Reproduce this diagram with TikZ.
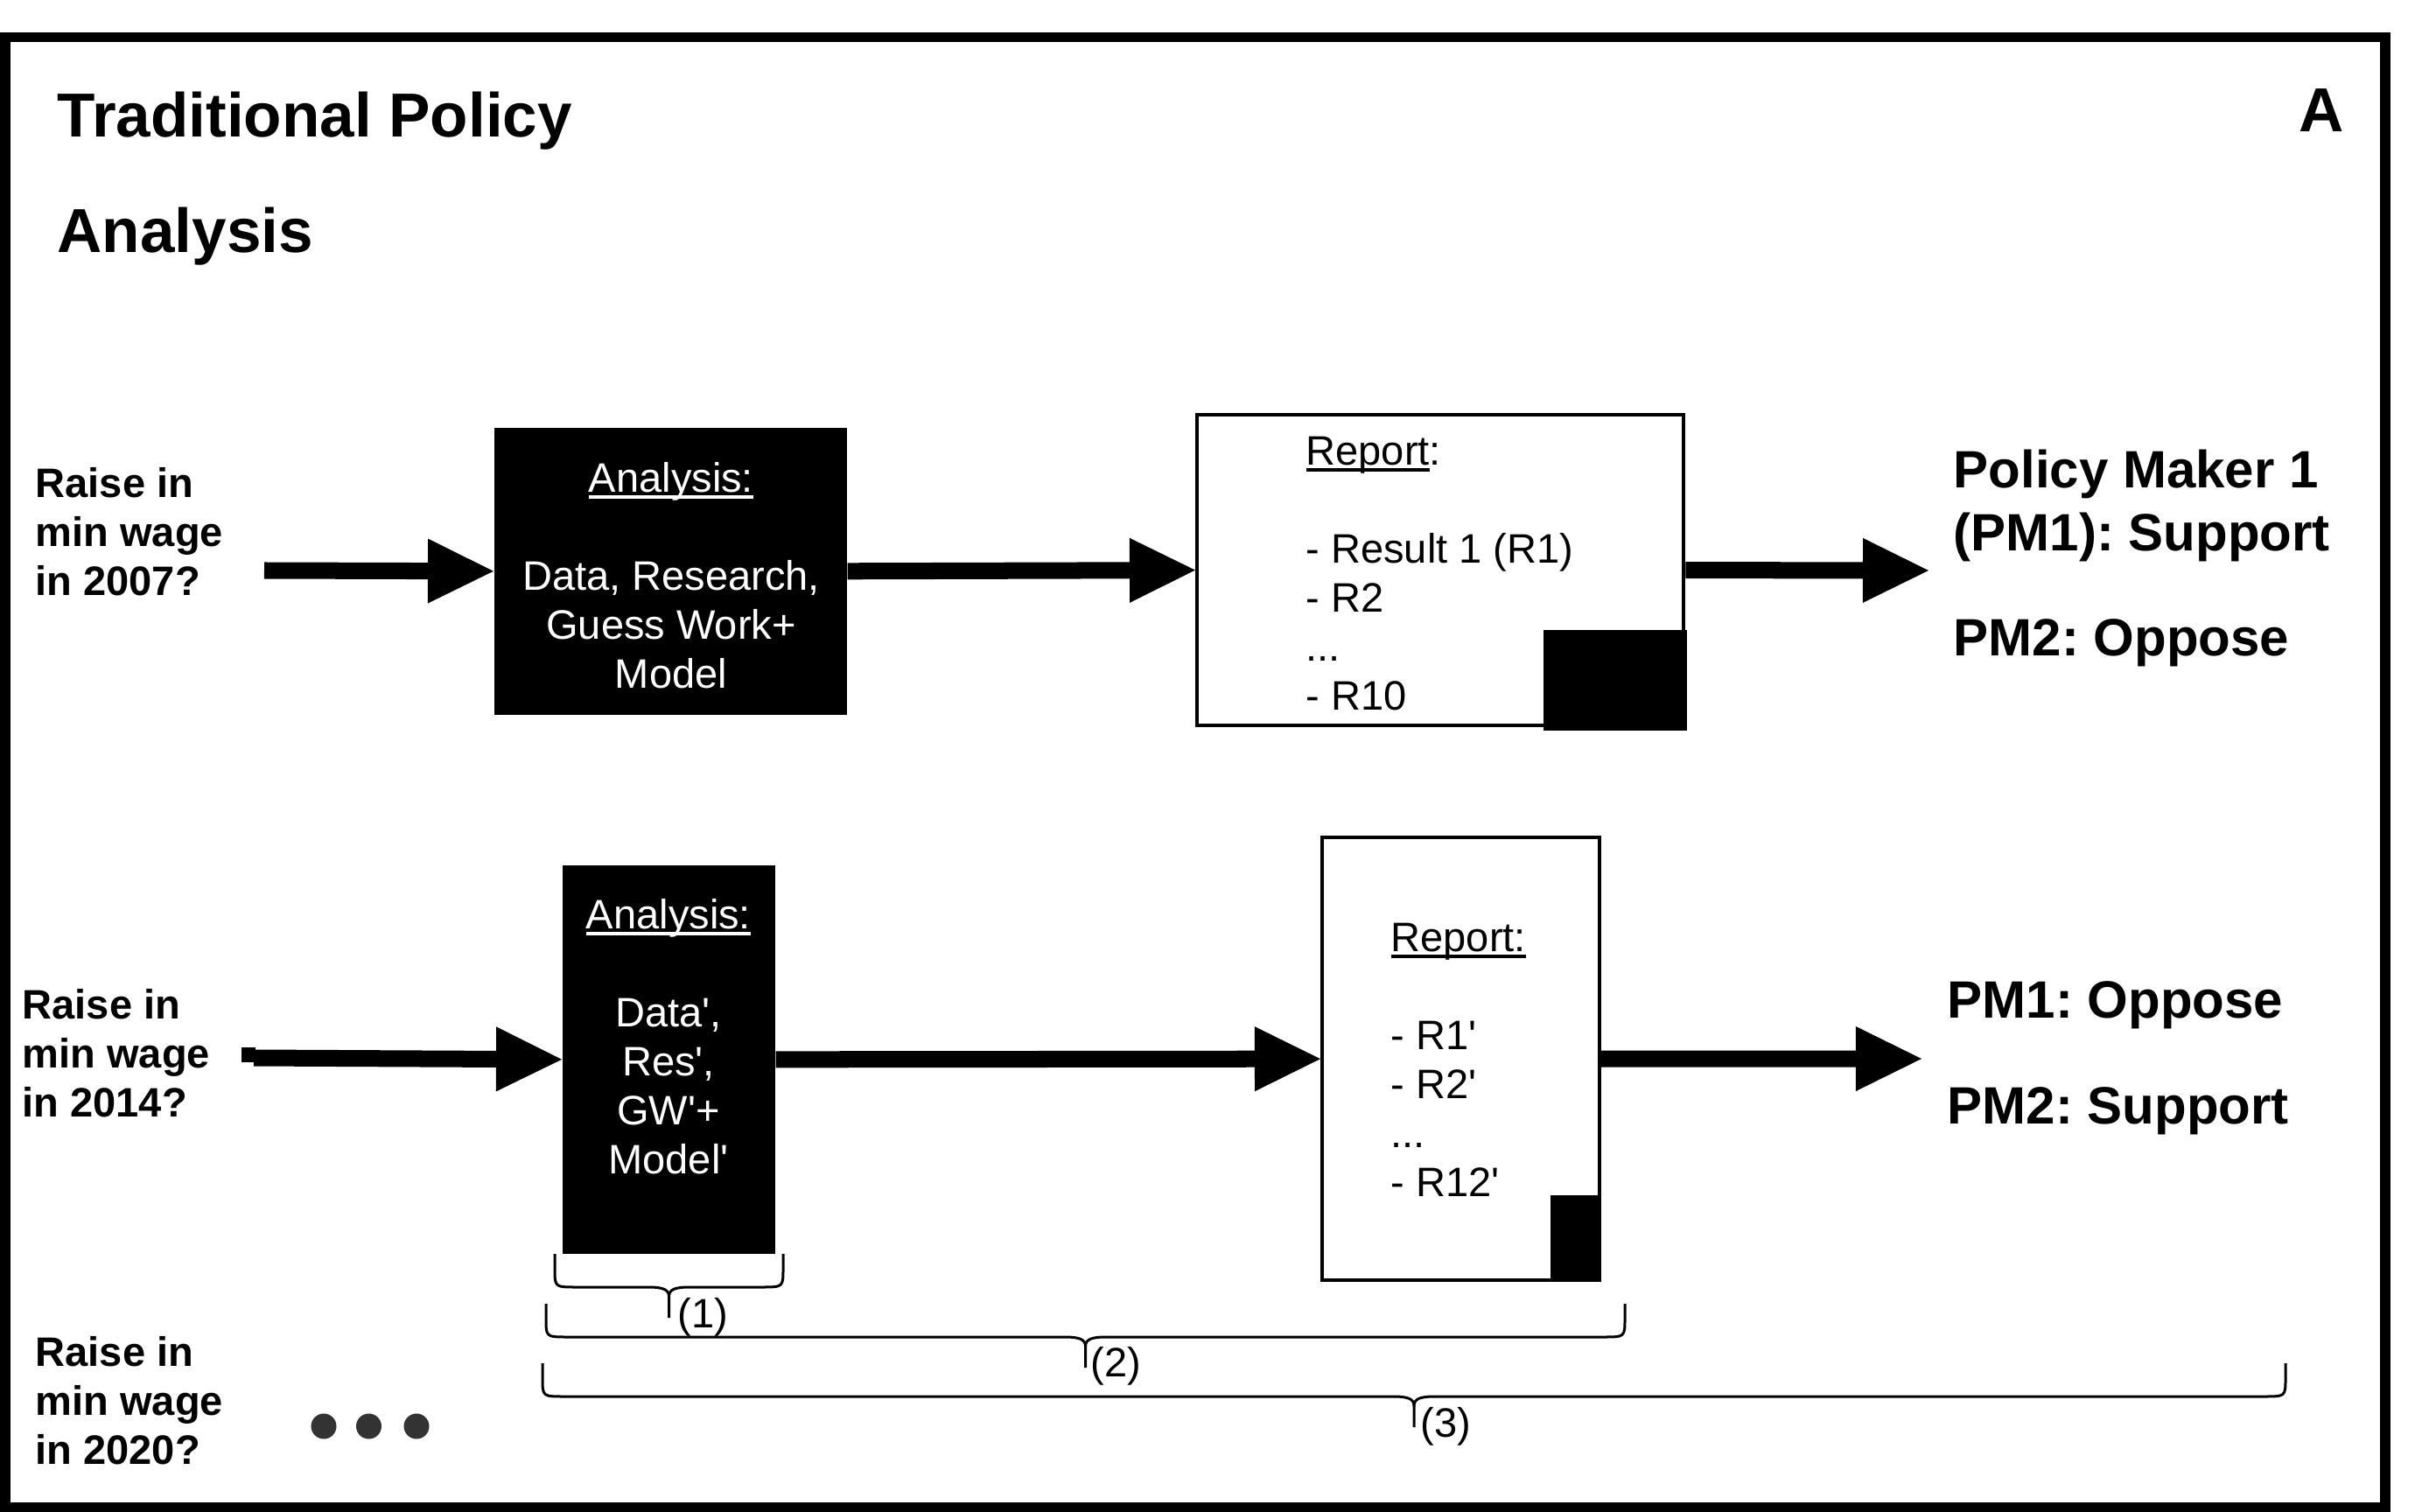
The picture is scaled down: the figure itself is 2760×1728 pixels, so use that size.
\documentclass[tikz,border=0pt]{standalone}
\usepackage{fontspec}
\setmainfont{Liberation Sans}
\usetikzlibrary{arrows.meta}
\definecolor{dotgray}{HTML}{333333}
\frenchspacing
\newsavebox\ulbox
\newcommand\ulx[1]{\sbox\ulbox{#1}\rlap{\rule[-0.17em]{\wd\ulbox}{0.085em}}\usebox\ulbox}
\newcommand\qs{\textquotesingle}
\newcommand\mybrace[3]{%
  \pgfmathsetmacro\bxm{(#1+#2)/2}%
  \pgfmathsetmacro\byl{#3+38}%
  \draw[bracestyle] ({#1},{#3}) -- ({#1},{#3+17}) .. controls ({#1},{\byl}) and ({#1},{\byl}) .. ({#1+25},{\byl})
     -- ({\bxm-24},{\byl}) .. controls ({\bxm-6},{\byl}) and ({\bxm},{\byl+3}) .. ({\bxm},{\byl+11}) -- ({\bxm},{#3+73});
  \draw[bracestyle] ({\bxm},{\byl+11}) .. controls ({\bxm},{\byl+3}) and ({\bxm+6},{\byl}) .. ({\bxm+24},{\byl})
     -- ({#2-25},{\byl}) .. controls ({#2},{\byl}) and ({#2},{\byl}) .. ({#2},{#3+17}) -- ({#2},{#3});
}
\begin{document}
\begin{tikzpicture}[x=0.01cm,y=-0.01cm,
  lbl/.style={font=\fontsize{13.37pt}{15.93pt}\selectfont\bfseries, align=left, inner sep=0pt, anchor=north west},
  pmtxt/.style={font=\fontsize{17.07pt}{20.49pt}\selectfont\bfseries, align=left, inner sep=0pt, anchor=north west},
  bodytxt/.style={font=\fontsize{13.37pt}{15.93pt}\selectfont, inner sep=0pt},
  titletxt/.style={font=\fontsize{20.2pt}{24pt}\selectfont\bfseries, inner sep=0pt, anchor=base west},
  blackbox/.style={fill=black, draw=none, inner sep=0pt, anchor=north west},
  reportbox/.style={draw=black, line width=0.04cm, fill=white, inner sep=0pt, anchor=north west},
  bigarrow/.style={line width=0.19cm, -{Triangle[length=0.75cm,width=0.74cm,line width=0pt]}},
  bracestyle/.style={line width=0.03cm, black},
  framestyle/.style={line width=0.115cm, black}
]
\fill[white] (0,0) rectangle (2760,1728);
\useasboundingbox (0,0) rectangle (2760,1728);

% outer frame
\draw[framestyle] (5.75,42.5) rectangle (2726,1722.25);

% titles
\node[titletxt] (t1) at (65,157) {Traditional Policy};
\node[titletxt] (t2) at (65,289) {Analysis};
\node[titletxt, anchor=base east] (lA) at (2679,151) {A};

% ---------- row 1 ----------
\node[lbl] (q1) at (40,533.3) {Raise in\\min wage\\in 2007?};
\node[blackbox, minimum width=4.03cm, minimum height=3.28cm] (an1) at (564,488) {};
\node[bodytxt, text=white, align=center, anchor=north] (an1t) at (767,527.3)
  {\ulx{Analysis:}\\[0.56cm]Data, Research,\\Guess Work+\\Model};
\node[reportbox, minimum width=5.56cm, minimum height=3.55cm] (rp1) at (1366,472) {};
\fill (1764,720) rectangle (1928,835);
\node[bodytxt, align=left, anchor=north west] (rp1t) at (1492,498)
  {\ulx{Report}:\\[0.56cm]- Result 1 (R1)\\- R2\\...\\- R10};
\node[pmtxt] (pm1) at (2232,513) {Policy Maker 1\\(PM1): Support\\[0.48cm]PM2: Oppose};

\coordinate (s1) at (302,652);
\coordinate (e1) at (2204,652);
\draw[bigarrow] (s1) -- (an1.west);
\draw[bigarrow] (an1.east) -- (rp1.west);
\draw[bigarrow] (rp1.east) -- (e1);

% ---------- row 2 ----------
\node[lbl] (q2) at (25,1129.3) {Raise in\\min wage\\in 2014?};
\node[blackbox, minimum width=2.43cm, minimum height=4.44cm] (an2) at (642,988) {};
\node[bodytxt, text=white, align=center, anchor=north] (an2t) at (764,1026.3)
  {\ulx{Analysis:}\\[0.56cm]Data\qs,\\Res\qs,\\GW\qs+\\Model\qs};
\node[reportbox, minimum width=3.17cm, minimum height=5.06cm] (rp2) at (1509,955) {};
\fill (1772,1366) rectangle (1830,1465);
\node[bodytxt, align=left, anchor=north west] (rp2t) at (1589,1054.3)
  {\ulx{Report:}\\[0.56cm]- R1\qs\\- R2\qs\\...\\- R12\qs};
\node[pmtxt] (pm2) at (2225,1121.3) {PM1: Oppose\\[0.48cm]PM2: Support};

\fill (276,1197) rectangle (292,1214);
\coordinate (s2) at (290,1209);
\coordinate (e2) at (2196,1210);
\draw[bigarrow] (s2) -- (an2.west);
\draw[bigarrow] (an2.east) -- (rp2.west);
\draw[bigarrow] (rp2.east) -- (e2);

% ---------- braces ----------
\mybrace{634}{895}{1433}
\mybrace{624}{1857}{1490}
\mybrace{620}{2612}{1558}
\node[bodytxt, anchor=base west] (b1) at (774,1517) {(1)};
\node[bodytxt, anchor=base west] (b2) at (1246,1573) {(2)};
\node[bodytxt, anchor=base west] (b3) at (1623,1642) {(3)};

% ---------- row 3 ----------
\node[lbl] (q3) at (40,1526.3) {Raise in\\min wage\\in 2020?};
\fill[dotgray] (370,1630) circle (0.145cm);
\fill[dotgray] (421.5,1630) circle (0.145cm);
\fill[dotgray] (476,1630) circle (0.145cm);
\end{tikzpicture}
\end{document}
